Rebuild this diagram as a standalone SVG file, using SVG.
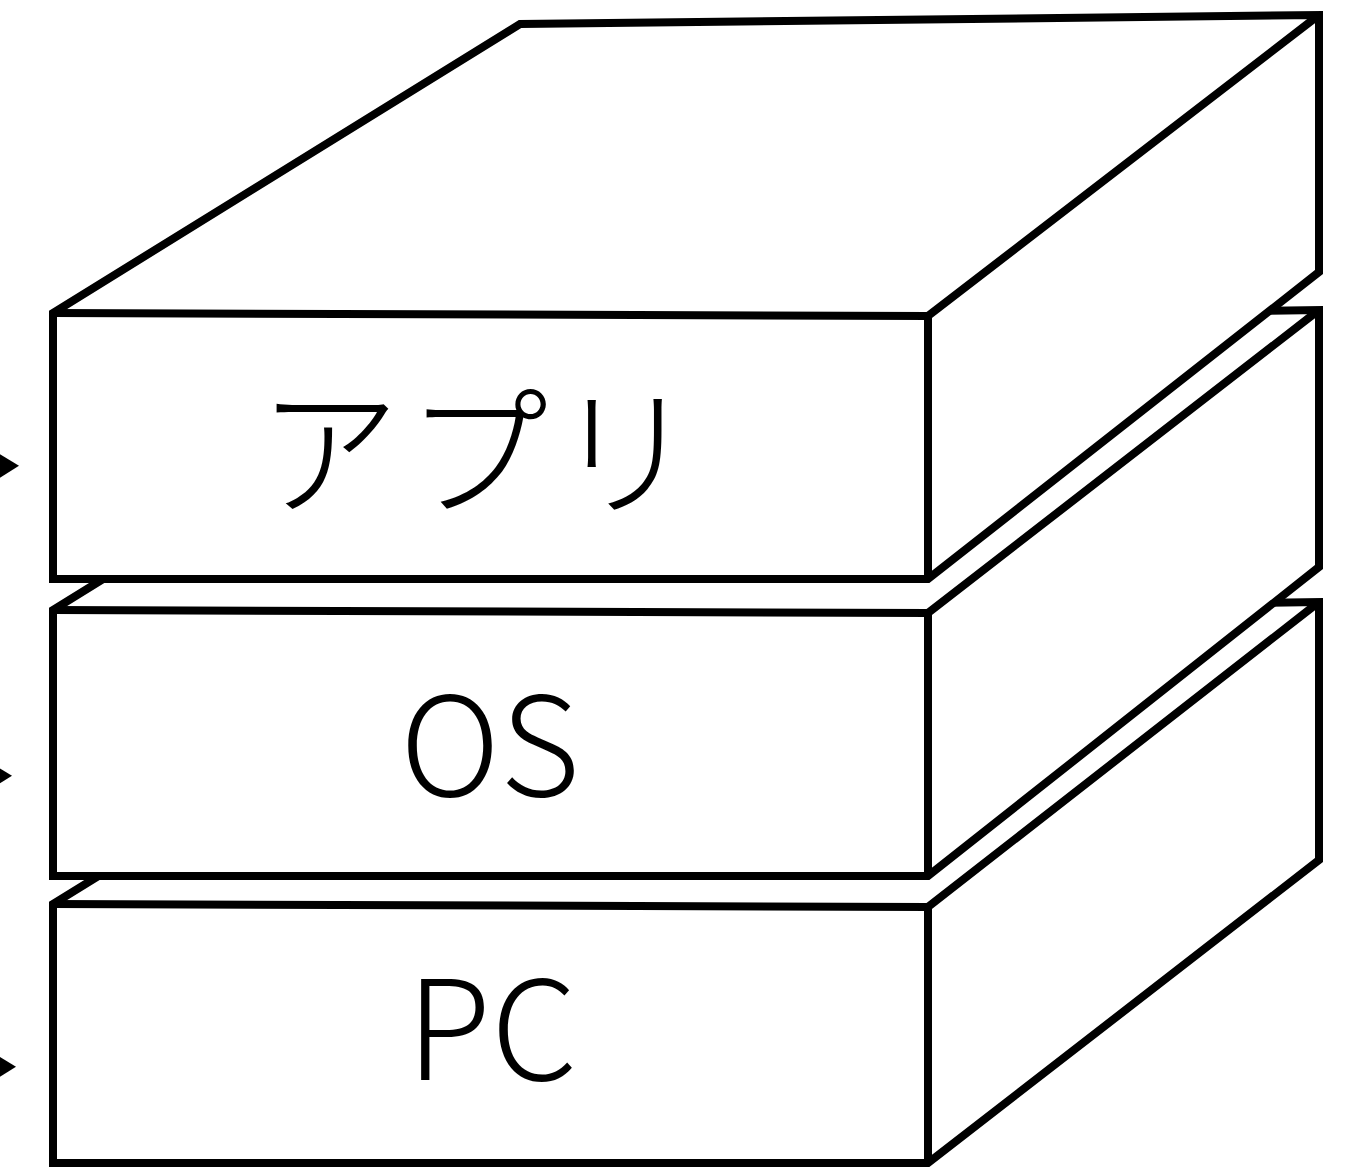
<svg xmlns="http://www.w3.org/2000/svg" width="1358" height="1168" viewBox="0 0 1358 1168">
  <style>
    .face { fill: #ffffff; stroke: #000000; stroke-width: 8; stroke-linejoin: miter; }
    .edge { fill: none; stroke: #000000; stroke-width: 8; stroke-linejoin: miter; }
    .label { font-family: "Noto Sans CJK JP", "Noto Sans", sans-serif; font-weight: 300; font-size: 138px; fill: #000000; text-anchor: middle; }
    .kana { font-size: 142px; letter-spacing: 6px; }
    .conn { stroke: #000000; stroke-width: 8; fill: none; }
  </style>
  <defs>
    <marker id="arrow" viewBox="0 0 26 32" refX="0" refY="16" markerWidth="26" markerHeight="32" markerUnits="userSpaceOnUse" orient="auto">
      <path d="M0,0 L26,16 L0,32 Z" fill="#000000"/>
    </marker>
  </defs>
  <rect x="0" y="0" width="1358" height="1168" fill="#ffffff"/>

  <g id="pc">
    <path class="face" d="M53,1163 L53,904 L520,616 L1319,602 L1319,860 L928,1163 Z"/>
    <path class="edge" d="M53,904 L928,907 L1319,602 M928,907 L928,1163"/>
    <text class="label" x="492" y="1080">PC</text>
  </g>

  <g id="os">
    <path class="face" d="M53,876 L53,610 L520,321 L1319,310 L1319,567 L928,876 Z"/>
    <path class="edge" d="M53,610 L928,613 L1319,310 M928,613 L928,876"/>
    <text class="label" x="490" y="796">OS</text>
  </g>

  <g id="app">
    <path class="face" d="M53,579 L53,313 L520,24 L1319,15 L1319,272 L928,579 Z"/>
    <path class="edge" d="M53,313 L928,316 L1319,15 M928,316 L928,579"/>
    <text class="label kana" x="480" y="505">アプリ</text>
  </g>

  <g id="connectors">
    <line class="conn" x1="-100" y1="467" x2="-7" y2="466" marker-end="url(#arrow)"/>
    <line class="conn" x1="-100" y1="777" x2="-14" y2="776" marker-end="url(#arrow)"/>
    <line class="conn" x1="-100" y1="1068" x2="-10" y2="1067" marker-end="url(#arrow)"/>
  </g>
</svg>
